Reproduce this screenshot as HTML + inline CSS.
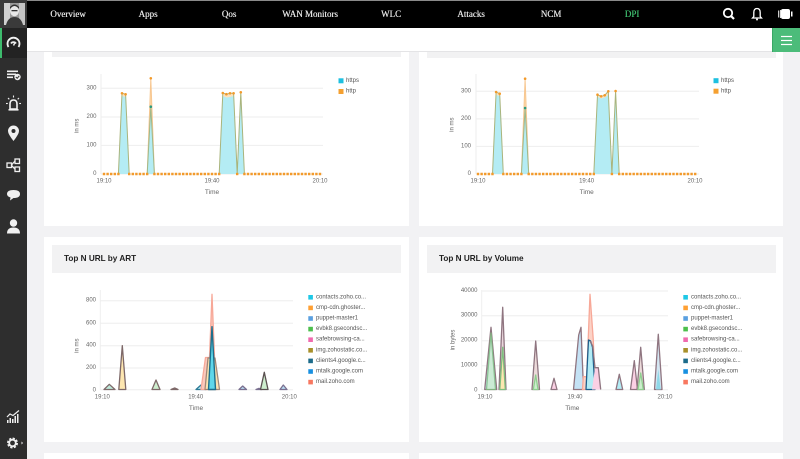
<!DOCTYPE html>
<html><head><meta charset="utf-8">
<style>
*{margin:0;padding:0;box-sizing:border-box}
html,body{width:800px;height:459px;overflow:hidden;background:#f2f2f4;font-family:"Liberation Sans",sans-serif}
#root{position:relative;width:800px;height:459px;overflow:hidden;background:#f2f2f4}
.abs{position:absolute}
.nav{left:0;top:0;width:800px;height:28px;background:#000;border-top:1px solid #8a8a8a}
.nav span{position:absolute;top:8px;font-family:"Liberation Serif",serif;font-size:9px;color:#e2e2e2;transform:translateX(-50%);white-space:nowrap;text-shadow:0.3px 0 0 #e2e2e2}
.side{left:0;top:0;width:27px;height:459px;background:#2e2e2e}
.card{background:#fff}
.tbar{background:#f2f2f3}
.ttl{position:absolute;font-size:8.2px;font-weight:bold;color:#222;white-space:nowrap}
</style></head><body><div id="root">

<!-- cards -->
<div class="abs card" style="left:44px;top:36px;width:365px;height:190px"></div>
<div class="abs tbar" style="left:52px;top:36px;width:349px;height:21px"></div>
<div class="abs card" style="left:419px;top:36px;width:364px;height:190px"></div>
<div class="abs tbar" style="left:427px;top:36px;width:349px;height:22px"></div>

<div class="abs card" style="left:44px;top:237px;width:365px;height:205px"></div>
<div class="abs tbar" style="left:52px;top:245px;width:349px;height:28px"></div>
<div class="ttl" style="left:64px;top:254px">Top N URL by ART</div>
<div class="abs card" style="left:419px;top:237px;width:364px;height:205px"></div>
<div class="abs tbar" style="left:427px;top:245px;width:349px;height:28px"></div>
<div class="ttl" style="left:439px;top:254px">Top N URL by Volume</div>

<div class="abs card" style="left:44px;top:453px;width:365px;height:10px"></div>
<div class="abs card" style="left:419px;top:453px;width:364px;height:10px"></div>

<!-- white header strip -->
<div class="abs" style="left:27px;top:28px;width:773px;height:24px;background:#fff;border-bottom:1px solid #e4e4e6"></div>
<div class="abs" style="left:772px;top:28px;width:28px;height:24px;background:#4cbc7a;border-left:1px solid #3aa866"></div>
<svg class="abs" style="left:772px;top:28px" width="28" height="24"><g stroke="#fff" stroke-width="1.2"><line x1="9" y1="8.5" x2="20" y2="8.5"/><line x1="9" y1="12.5" x2="20" y2="12.5"/><line x1="9" y1="16.5" x2="20" y2="16.5"/></g></svg>

<!-- nav -->
<div class="abs nav">
<span style="left:68px">Overview</span>
<span style="left:148px">Apps</span>
<span style="left:229px">Qos</span>
<span style="left:310px">WAN Monitors</span>
<span style="left:391px">WLC</span>
<span style="left:471px">Attacks</span>
<span style="left:551px">NCM</span>
<span style="left:632px;color:#3dbb6d;text-shadow:0.3px 0 0 #3dbb6d">DPI</span>
</div>
<svg class="abs" style="left:715px;top:0" width="85" height="28">
<circle cx="13" cy="13" r="4.2" fill="none" stroke="#fff" stroke-width="1.8"/><line x1="16" y1="16" x2="19" y2="19" stroke="#fff" stroke-width="2.2"/>
<path d="M37.5,18 L38.8,16.5 L38.8,12.5 Q38.8,8.5 42,8.5 Q45.2,8.5 45.2,12.5 L45.2,16.5 L46.5,18 Z" fill="none" stroke="#fff" stroke-width="1.3"/><circle cx="42" cy="19.5" r="1" fill="#fff"/>
<rect x="66" y="9" width="9" height="10" rx="2" fill="#fff"/><rect x="63" y="10.5" width="1.3" height="7" fill="#ccc"/><rect x="65" y="10" width="1" height="8" fill="#ddd"/><rect x="76" y="11.5" width="1.5" height="5" fill="#fff"/>
</svg>

<!-- sidebar -->
<div class="abs side"></div>
<div class="abs" style="left:0;top:0;width:27px;height:28px;background:#3a3a3a"></div>
<svg class="abs" style="left:4px;top:3px" width="21" height="22">
<rect width="21" height="22" fill="#9a9a9a"/><rect x="0" y="0" width="6" height="22" fill="#d0d0d0"/><rect x="15" y="0" width="6" height="22" fill="#c4c4c4"/>
<ellipse cx="10.5" cy="8" rx="4.5" ry="5.2" fill="#e8e8e8"/><path d="M6,6 Q10.5,0 15,6 L15,4 Q10.5,-1 6,4Z" fill="#333"/><rect x="7.5" y="7" width="6" height="1.3" fill="#333"/>
<path d="M2,22 Q4,14 10.5,14 Q17,14 19,22Z" fill="#3a3a3a"/>
</svg>
<div class="abs" style="left:0;top:28px;width:27px;height:30px;background:#232323;border-left:2px solid #3dbb6d"></div>
<svg class="abs" style="left:0;top:28px" width="27" height="431">
<g fill="none" stroke="#f0f0f0" stroke-width="1.8">
<path d="M8.5,19 A6,6 0 1 1 18.5,19"/><path d="M11,15.5 A3,3 0 0 1 16,15.5"/>
</g>
<line x1="13.5" y1="17.5" x2="15" y2="14.5" stroke="#f0f0f0" stroke-width="1.4"/>
<g fill="#f0f0f0"><rect x="7" y="42.5" width="11" height="1.6"/><rect x="7" y="45.5" width="9" height="1.6"/><rect x="7" y="48.5" width="6" height="1.6"/><circle cx="17.5" cy="49" r="3.2"/></g>
<path d="M15.8,49 L17.2,50.3 L19.3,47.8" stroke="#2e2e2e" stroke-width="1" fill="none"/>
<path d="M10,81 L10,76 Q10,72 13.5,72 Q17,72 17,76 L17,81 Z" fill="none" stroke="#f0f0f0" stroke-width="1.6"/><rect x="8.5" y="81" width="10" height="1.6" fill="#f0f0f0"/>
<g stroke="#f0f0f0" stroke-width="1.1"><line x1="13.5" y1="67.5" x2="13.5" y2="69.5"/><line x1="8" y1="70" x2="9.3" y2="71.3"/><line x1="19" y1="70" x2="17.7" y2="71.3"/><line x1="6" y1="75.5" x2="7.8" y2="75.5"/><line x1="19.2" y1="75.5" x2="21" y2="75.5"/></g>
<path d="M13.5,113 Q8,106 8,103 A5.5,5.5 0 0 1 19,103 Q19,106 13.5,113Z" fill="#f0f0f0"/><circle cx="13.5" cy="103" r="2" fill="#2e2e2e"/>
<g fill="none" stroke="#f0f0f0" stroke-width="1.3"><rect x="15" y="131" width="4.5" height="4.5"/><rect x="15" y="139" width="4.5" height="4.5"/><rect x="7" y="135" width="4.5" height="4.5"/><line x1="11.5" y1="137" x2="15" y2="133"/><line x1="11.5" y1="137.5" x2="15" y2="141"/></g>
<path d="M7,166 Q7,162 13.5,162 Q20,162 20,166 Q20,170 13.5,170 L10,172.5 L10.5,169.5 Q7,168.5 7,166Z" fill="#f0f0f0"/>
<circle cx="13.5" cy="195" r="3.7" fill="#f0f0f0"/><path d="M7,205.5 Q7,199.5 13.5,199.5 Q20,199.5 20,205.5Z" fill="#f0f0f0"/>
<g fill="#f0f0f0"><rect x="7" y="392" width="1.5" height="3"/><rect x="9.5" y="390" width="1.5" height="5"/><rect x="12" y="391" width="1.5" height="4"/><rect x="14.5" y="388" width="1.5" height="7"/><rect x="17" y="386" width="1.5" height="9"/></g>
<polyline points="7,389 10,386 13,387.5 19,382.5" fill="none" stroke="#f0f0f0" stroke-width="1.2"/>
<circle cx="12.5" cy="415" r="4.2" fill="none" stroke="#f0f0f0" stroke-width="2.6" stroke-dasharray="2 1.3"/><circle cx="12.5" cy="415" r="3.3" fill="none" stroke="#f0f0f0" stroke-width="1.8"/>
<path d="M21.5,413.5 L23,415 L21.5,416.5Z" fill="#f0f0f0"/>
</svg>

<!-- charts -->
<svg class="abs" style="left:0;top:0" width="800" height="459" font-family="Liberation Sans, sans-serif">
<g stroke="#eeeeee" stroke-width="1">
<line x1="101" y1="88.3" x2="323" y2="88.3"/><line x1="101" y1="117" x2="323" y2="117"/><line x1="101" y1="145.4" x2="323" y2="145.4"/>
<line x1="101" y1="74" x2="101" y2="174"/><line x1="101" y1="174" x2="323" y2="174"/>
<line x1="476" y1="91.3" x2="699" y2="91.3"/><line x1="476" y1="118.9" x2="699" y2="118.9"/><line x1="476" y1="146.4" x2="699" y2="146.4"/>
<line x1="476" y1="74" x2="476" y2="174"/><line x1="476" y1="174" x2="699" y2="174"/>
<line x1="100.3" y1="300.7" x2="293" y2="300.7"/><line x1="100.3" y1="323.3" x2="293" y2="323.3"/><line x1="100.3" y1="345.7" x2="293" y2="345.7"/><line x1="100.3" y1="368" x2="293" y2="368"/>
<line x1="100.3" y1="290" x2="100.3" y2="390"/><line x1="100.3" y1="389.8" x2="293" y2="389.8"/>
<line x1="481.7" y1="291" x2="668" y2="291"/><line x1="481.7" y1="315.7" x2="668" y2="315.7"/><line x1="481.7" y1="340.7" x2="668" y2="340.7"/><line x1="481.7" y1="365.7" x2="668" y2="365.7"/>
<line x1="481.7" y1="290" x2="481.7" y2="390"/><line x1="481.7" y1="389.8" x2="668" y2="389.8"/>
</g>

<g font-size="6" fill="#666">
<g text-anchor="end" dominant-baseline="central">
<text x="96.5" y="88.3">300</text><text x="96.5" y="117">200</text><text x="96.5" y="145.4">100</text><text x="96.5" y="174">0</text>
<text x="471" y="91.3">300</text><text x="471" y="118.9">200</text><text x="471" y="146.4">100</text><text x="471" y="174">0</text>
<text x="96" y="300.7">800</text><text x="96" y="323.3">600</text><text x="96" y="345.7">400</text><text x="96" y="368">200</text><text x="96" y="390.3">0</text>
<text x="477.5" y="291">40000</text><text x="477.5" y="315.7">30000</text><text x="477.5" y="340.7">20000</text><text x="477.5" y="365.7">10000</text><text x="477.5" y="390.3">0</text>
</g>
<g text-anchor="middle" dominant-baseline="central">
<text x="104" y="181.5">19:10</text><text x="212" y="181.5">19:40</text><text x="320" y="181.5">20:10</text>
<text x="478" y="181.5">19:10</text><text x="586.6" y="181.5">19:40</text><text x="695" y="181.5">20:10</text>
<text x="102.3" y="397.7">19:10</text><text x="195.7" y="397.7">19:40</text><text x="289.3" y="397.7">20:10</text>
<text x="485" y="397.7">19:10</text><text x="575" y="397.7">19:40</text><text x="665" y="397.7">20:10</text>
<text x="212" y="192.7" font-size="6.5">Time</text><text x="586.7" y="192.3" font-size="6.5">Time</text>
<text x="196" y="408.3" font-size="6.5">Time</text><text x="572.3" y="408.3" font-size="6.5">Time</text>
<text transform="translate(77.7,125.8) rotate(-90)">in ms</text>
<text transform="translate(452.7,124.7) rotate(-90)">in ms</text>
<text transform="translate(77.7,345.7) rotate(-90)">in ms</text>
<text transform="translate(453.3,340) rotate(-90)">in bytes</text>
</g>
</g>

<!-- top-left chart -->
<g>
<polygon points="147.2,174 150.8,78.3 154.4,174" fill="#fdd9aa"/>
<polygon points="118.4,174 122,93.3 125.6,94.3 129.2,174" fill="#fde2bd"/>
<polygon points="219.2,174 222.8,93 226.4,94.2 230,93.3 233.6,93.3 237.2,174 240.8,92.3 244.4,174" fill="#fde2bd"/>
<polygon points="118.4,174 122,96 125.6,97 129.2,174" fill="#b4ecf4"/>
<polygon points="147.2,174 150.8,107 154.4,174" fill="#b4ecf4"/>
<polygon points="219.2,174 222.8,96 226.4,97.5 230,97 233.6,96 237.2,174 240.8,95 244.4,174" fill="#b4ecf4"/>
<g fill="none" stroke-width="1">
<polyline points="118.4,174 122,93.3 125.6,94.3 129.2,174" stroke="#a9b47c"/>
<polyline points="147.2,174 150.8,78.3 154.4,174" stroke="#f7c791"/>
<polyline points="147.2,174 150.8,107 154.4,174" stroke="#9fb88a"/>
<polyline points="219.2,174 222.8,93 226.4,94.2 230,93.3 233.6,93.3 237.2,174 240.8,92.3 244.4,174" stroke="#a9b47c"/>
</g>
<g stroke="#f39a2a" stroke-width="2.4" stroke-dasharray="2.4 1.2">
<line x1="102.8" y1="174" x2="119.6" y2="174"/><line x1="128" y1="174" x2="148.4" y2="174"/>
<line x1="153.2" y1="174" x2="220.4" y2="174"/><line x1="236" y1="174" x2="238.4" y2="174"/>
<line x1="243.2" y1="174" x2="321.2" y2="174"/>
</g>
<g fill="#f39a2a">
<circle cx="122" cy="93.3" r="1.3"/><circle cx="125.6" cy="94.3" r="1.3"/><circle cx="150.8" cy="78.3" r="1.3"/>
<circle cx="222.8" cy="93" r="1.3"/><circle cx="226.4" cy="94.2" r="1.3"/><circle cx="230" cy="93.3" r="1.3"/><circle cx="233.6" cy="93.3" r="1.3"/><circle cx="240.8" cy="92.3" r="1.3"/>
</g>
<circle cx="150.8" cy="106.7" r="1.3" fill="#2a9a80"/>
<rect x="338.5" y="78.3" width="5" height="5" fill="#1ec0e0"/><rect x="338.5" y="89" width="5" height="5" fill="#f5a030"/>
<text x="346" y="81" font-size="6" fill="#555" dominant-baseline="central">https</text>
<text x="346" y="91.7" font-size="6" fill="#555" dominant-baseline="central">http</text>
</g>

<!-- top-right chart -->
<g>
<polygon points="521.4,174 525.1,78.7 528.7,174" fill="#fdd9aa"/>
<polygon points="492.5,174 496.1,92 499.7,93.7 503.3,174" fill="#fde2bd"/>
<polygon points="593.8,174 597.5,94.7 601.1,96.3 604.7,95.3 608.3,91.3 611.9,174 615.6,91 619.2,174" fill="#fde2bd"/>
<polygon points="492.5,174 496.1,95 499.7,96 503.3,174" fill="#b4ecf4"/>
<polygon points="521.4,174 525.1,108 528.7,174" fill="#b4ecf4"/>
<polygon points="593.8,174 597.5,97 601.1,98.5 604.7,97.5 608.3,95 611.9,174 615.6,94 619.2,174" fill="#b4ecf4"/>
<g fill="none" stroke-width="1">
<polyline points="492.5,174 496.1,92 499.7,93.7 503.3,174" stroke="#a9b47c"/>
<polyline points="521.4,174 525.1,78.7 528.7,174" stroke="#f7c791"/>
<polyline points="521.4,174 525.1,108 528.7,174" stroke="#9fb88a"/>
<polyline points="593.8,174 597.5,94.7 601.1,96.3 604.7,95.3 608.3,91.3 611.9,174 615.6,91 619.2,174" stroke="#a9b47c"/>
</g>
<g stroke="#f39a2a" stroke-width="2.4" stroke-dasharray="2.4 1.22">
<line x1="476.8" y1="174" x2="493.7" y2="174"/><line x1="502.1" y1="174" x2="522.6" y2="174"/>
<line x1="527.5" y1="174" x2="595" y2="174"/><line x1="610.7" y1="174" x2="613.1" y2="174"/>
<line x1="618" y1="174" x2="696.4" y2="174"/>
</g>
<g fill="#f39a2a">
<circle cx="496.1" cy="92" r="1.3"/><circle cx="499.7" cy="93.7" r="1.3"/><circle cx="525.1" cy="78.7" r="1.3"/>
<circle cx="597.5" cy="94.7" r="1.3"/><circle cx="601.1" cy="96.3" r="1.3"/><circle cx="604.7" cy="95.3" r="1.3"/><circle cx="608.3" cy="91.3" r="1.3"/><circle cx="615.6" cy="91" r="1.3"/>
</g>
<circle cx="525.1" cy="108" r="1.3" fill="#2a9a80"/>
<rect x="713.5" y="78.2" width="5" height="5" fill="#1ec0e0"/><rect x="713.5" y="88.7" width="5" height="5" fill="#f5a030"/>
<text x="721" y="80.8" font-size="6" fill="#555" dominant-baseline="central">https</text>
<text x="721" y="91.3" font-size="6" fill="#555" dominant-baseline="central">http</text>
</g>

<!-- bottom-left chart -->
<g stroke-width="1.3" stroke-linejoin="round">
<polygon points="104,389.5 109.3,384.3 115,389.5" fill="#bfeadb" stroke="#7d6a6a"/>
<polygon points="118.8,389.5 122.3,345.7 125.8,389.5" fill="#fde6b0" stroke="#7d6868"/>
<polygon points="152,389.5 156,380 160,389.5" fill="#cdeecd" stroke="#7d6868"/>
<polygon points="171,389.5 174.7,388 178,389.5" fill="#fbd0e4" stroke="#7d6868"/>
<polygon points="196,389.5 201,385 206,389.5" fill="#b3e8f3" stroke="#2c7a96"/>
<polygon points="201,389.5 205.5,357.5 209.5,357.5 212,294.3 214.5,357.5 217,389.5" fill="#fcc9bd" stroke="#f7a898"/>
<polygon points="205,389.5 208,358 215,358 219.5,389.5" fill="#fde6b0" stroke="#9a8070" opacity="0.9"/>
<polygon points="208.5,389.5 212,326.7 215.5,389.5" fill="#5fd7ea" stroke="#1d6f8c" stroke-width="1.4"/>
<polygon points="239,389.5 242.7,386 246.5,389.5" fill="#b8dcf2" stroke="#7a7090"/>
<polygon points="256,389.5 259,388.3 262,389.5" fill="#cdeecd" stroke="#7a7090"/>
<polygon points="260.5,389.5 264.3,372.3 268,389.5" fill="#cdeecd" stroke="#5a5050"/>
<polygon points="280,389.5 283.3,385 287,389.5" fill="#b8dcf2" stroke="#7a7090"/>
</g>

<!-- bottom-right chart -->
<g stroke-width="1.3" stroke-linejoin="round">
<polygon points="484.7,389.5 491,327.3 496.7,389.5" fill="#c4e2f5" stroke="#8f7580"/>
<polygon points="486.5,389.5 491,333 495.5,389.5" fill="#cdeecd" stroke="#7fbf7f" opacity="0.8"/>
<polygon points="499,389.5 502.7,307.3 506,389.5" fill="#ead6dc" stroke="#8f7580"/>
<polygon points="499.8,389.5 502.7,347.3 505.3,389.5" fill="#fde6b0" stroke="#7fbf7f"/>
<polygon points="532,389.5 535.7,341 539.5,389.5" fill="#ecdada" stroke="#8f7580"/>
<polygon points="533.3,389.5 535.7,375 538,389.5" fill="#cdeecd" stroke="#8fcf8f"/>
<polygon points="551,389.5 554,378.3 557,389.5" fill="#fbd0e4" stroke="#8f7580"/>
<polygon points="573.5,389.5 578.7,335 581,327.3 583.5,389.5" fill="#c4e2f5" stroke="#8f7580"/>
<polygon points="582.5,389.5 583.3,376.7 586.7,376.7 590,294.3 593.3,340 595,389.5" fill="#fcd2c6" stroke="#f7a898"/>
<polygon points="586,389.5 589,345 593,346 597,389.5" fill="#fde6b0"/>
<polygon points="586,389.5 588.5,340 590.5,341 592.5,347 595,389.5" fill="#b3ecf5" stroke="#1d5f8c"/>
<polygon points="592,389.5 595,368 598.3,368 600.7,389.5" fill="#fbd0e4"/>
<polyline points="590,341 592.7,346 595,367.7 598.3,367.7 600.7,389.5" fill="none" stroke="#8f7580"/>
<polygon points="616,389.5 619.3,374.3 622.7,389.5" fill="#b3ecf5" stroke="#8f7580"/>
<polygon points="630.5,389.5 634.3,360.7 637.5,389.5" fill="#fbd0e4" stroke="#8f7580"/>
<polygon points="637,389.5 640.7,347.3 644.3,389.5" fill="#ecdada" stroke="#8f7580"/>
<polygon points="638,389.5 640.7,373 643.3,389.5" fill="#cdeecd" stroke="#8fcf8f"/>
<polygon points="654.5,389.5 658.3,334.3 662,389.5" fill="#d4e6f2" stroke="#8f7580"/>
<polygon points="656,389.5 658.3,369 660.7,389.5" fill="#8fd8e8"/>
</g>

<!-- legends bottom -->
<g font-size="6" fill="#555" dominant-baseline="central">
<rect x="308.3" y="295" width="4.6" height="4.6" fill="#1ec8e6"/><text x="316" y="297.3">contacts.zoho.co...</text>
<rect x="308.3" y="305.6" width="4.6" height="4.6" fill="#ffa033"/><text x="316" y="307.9">cmp-cdn.ghoster...</text>
<rect x="308.3" y="316.2" width="4.6" height="4.6" fill="#5aa0e0"/><text x="316" y="318.5">puppet-master1</text>
<rect x="308.3" y="326.8" width="4.6" height="4.6" fill="#4cbf4c"/><text x="316" y="329.1">evbk8.gsecondsc...</text>
<rect x="308.3" y="337.4" width="4.6" height="4.6" fill="#f06aae"/><text x="316" y="339.7">safebrowsing-ca...</text>
<rect x="308.3" y="348" width="4.6" height="4.6" fill="#a8902a"/><text x="316" y="350.3">img.zohostatic.co...</text>
<rect x="308.3" y="358.6" width="4.6" height="4.6" fill="#1c6b8a"/><text x="316" y="360.9">clients4.google.c...</text>
<rect x="308.3" y="369.2" width="4.6" height="4.6" fill="#1890e0"/><text x="316" y="371.5">mtalk.google.com</text>
<rect x="308.3" y="379.8" width="4.6" height="4.6" fill="#f87860"/><text x="316" y="382.1">mail.zoho.com</text>

<rect x="683.3" y="295" width="4.6" height="4.6" fill="#1ec8e6"/><text x="691" y="297.3">contacts.zoho.co...</text>
<rect x="683.3" y="305.6" width="4.6" height="4.6" fill="#ffa033"/><text x="691" y="307.9">cmp-cdn.ghoster...</text>
<rect x="683.3" y="316.2" width="4.6" height="4.6" fill="#5aa0e0"/><text x="691" y="318.5">puppet-master1</text>
<rect x="683.3" y="326.8" width="4.6" height="4.6" fill="#4cbf4c"/><text x="691" y="329.1">evbk8.gsecondsc...</text>
<rect x="683.3" y="337.4" width="4.6" height="4.6" fill="#f06aae"/><text x="691" y="339.7">safebrowsing-ca...</text>
<rect x="683.3" y="348" width="4.6" height="4.6" fill="#a8902a"/><text x="691" y="350.3">img.zohostatic.co...</text>
<rect x="683.3" y="358.6" width="4.6" height="4.6" fill="#1c6b8a"/><text x="691" y="360.9">clients4.google.c...</text>
<rect x="683.3" y="369.2" width="4.6" height="4.6" fill="#1890e0"/><text x="691" y="371.5">mtalk.google.com</text>
<rect x="683.3" y="379.8" width="4.6" height="4.6" fill="#f87860"/><text x="691" y="382.1">mail.zoho.com</text>
</g>
</svg>

</div></body></html>
